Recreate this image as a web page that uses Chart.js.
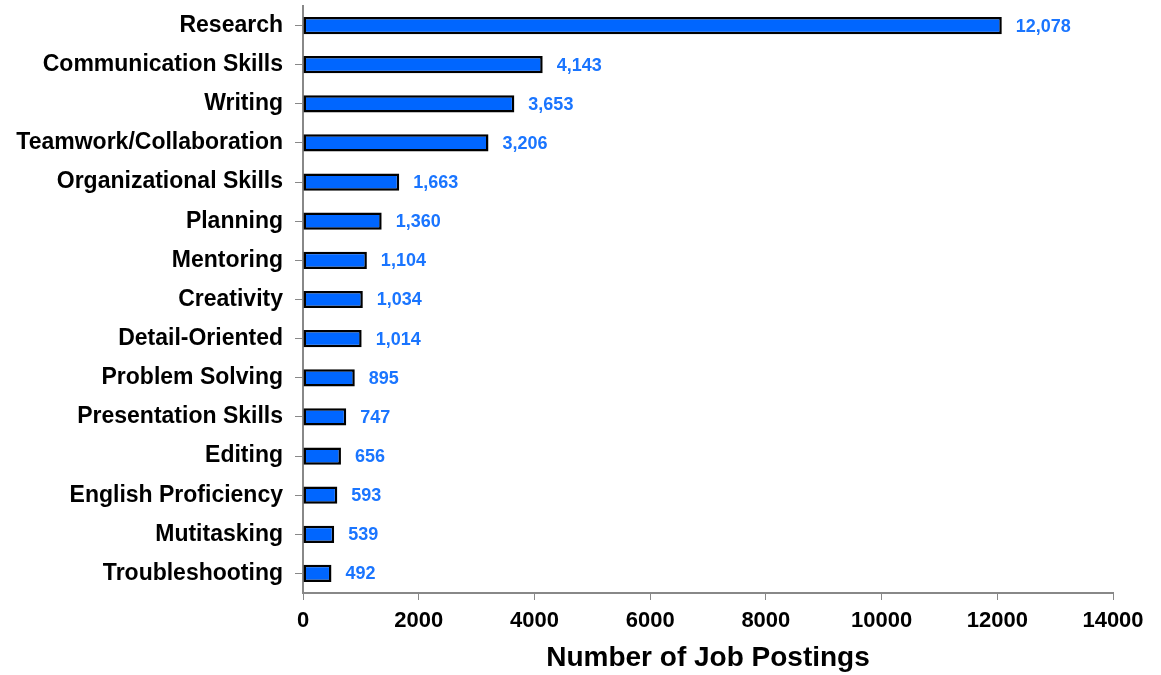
<!DOCTYPE html>
<html>
<head>
<meta charset="utf-8">
<script src="https://cdn.jsdelivr.net/npm/chart.js@4/dist/chart.umd.min.js"></script>
<style>
  html, body { margin: 0; padding: 0; background: #fff; }
  #wrap { width: 1161px; height: 675px; }
</style>
</head>
<body>
<div id="wrap"><canvas id="skillsChart"></canvas></div>
<script>
// skills and counts
var skills = ["Research", "Communication Skills", "Writing", "Teamwork/Collaboration",
  "Organizational Skills", "Planning", "Mentoring", "Creativity", "Detail-Oriented",
  "Problem Solving", "Presentation Skills", "Editing", "English Proficiency",
  "Mutitasking", "Troubleshooting"];
var postings = [12078, 4143, 3653, 3206, 1663, 1360, 1104, 1034, 1014, 895, 747, 656, 593, 539, 492];
var xTicks = [0, 2000, 4000, 6000, 8000, 10000, 12000, 14000];

var fontName = "'Liberation Sans', Arial, sans-serif";

// value labels at the end of each bar
var valueLabels = {
  id: 'valueLabels',
  afterDatasetsDraw: function (chart) {
    var ctx = chart.ctx;
    var meta = chart.getDatasetMeta(0);
    ctx.save();
    ctx.font = "bold 18px " + fontName;
    ctx.fillStyle = "#1a75ff";
    ctx.textAlign = "left";
    ctx.textBaseline = "middle";
    meta.data.forEach(function (bar, i) {
      ctx.fillText(postings[i].toLocaleString('en-US'), bar.x + 14, bar.y + 1);
    });
    ctx.restore();
  }
};

new Chart("skillsChart", {
  type: "bar",
  data: {
    labels: skills,
    datasets: [{
      data: postings,
      backgroundColor: "#0066ff",
      borderColor: "#000",
      borderWidth: 2.5,
      borderSkipped: false,
      barPercentage: 0.44,
      categoryPercentage: 1
    }]
  },
  options: {
    indexAxis: 'y',
    responsive: true,
    maintainAspectRatio: false,
    animation: { duration: 0 },
    layout: { padding: { top: 6, right: 48, bottom: 0, left: 0 } },
    plugins: {
      legend: { display: false },
      tooltip: { enabled: false }
    },
    scales: {
      x: {
        min: 0,
        max: 14000,
        afterBuildTicks: function (scale) {
          scale.ticks = xTicks.map(function (v) { return { value: v }; });
        },
        afterFit: function (scale) { scale.height = 82; },
        grid: {
          drawOnChartArea: false,
          drawTicks: true,
          tickLength: 7,
          color: "#888"
        },
        border: { color: "#888", width: 2 },
        ticks: {
          color: "#000",
          padding: 8,
          callback: function (v) { return String(v); },
          font: { family: fontName, size: 22, weight: "bold" }
        },
        title: {
          display: true,
          text: "Number of Job Postings",
          color: "#000",
          padding: { top: 4, bottom: 0 },
          font: { family: fontName, size: 28, weight: "bold" }
        }
      },
      y: {
        afterFit: function (scale) {
          scale.width = 303;
          scale.paddingTop = 0;
          scale.paddingBottom = 0;
        },
        grid: {
          drawOnChartArea: false,
          drawTicks: true,
          tickLength: 8,
          offset: false,
          color: "#888"
        },
        border: { color: "#888", width: 2 },
        ticks: {
          color: "#000",
          padding: 12,
          autoSkip: false,
          font: { family: fontName, size: 23, weight: "bold" }
        }
      }
    }
  },
  plugins: [valueLabels]
});
</script>
</body>
</html>
